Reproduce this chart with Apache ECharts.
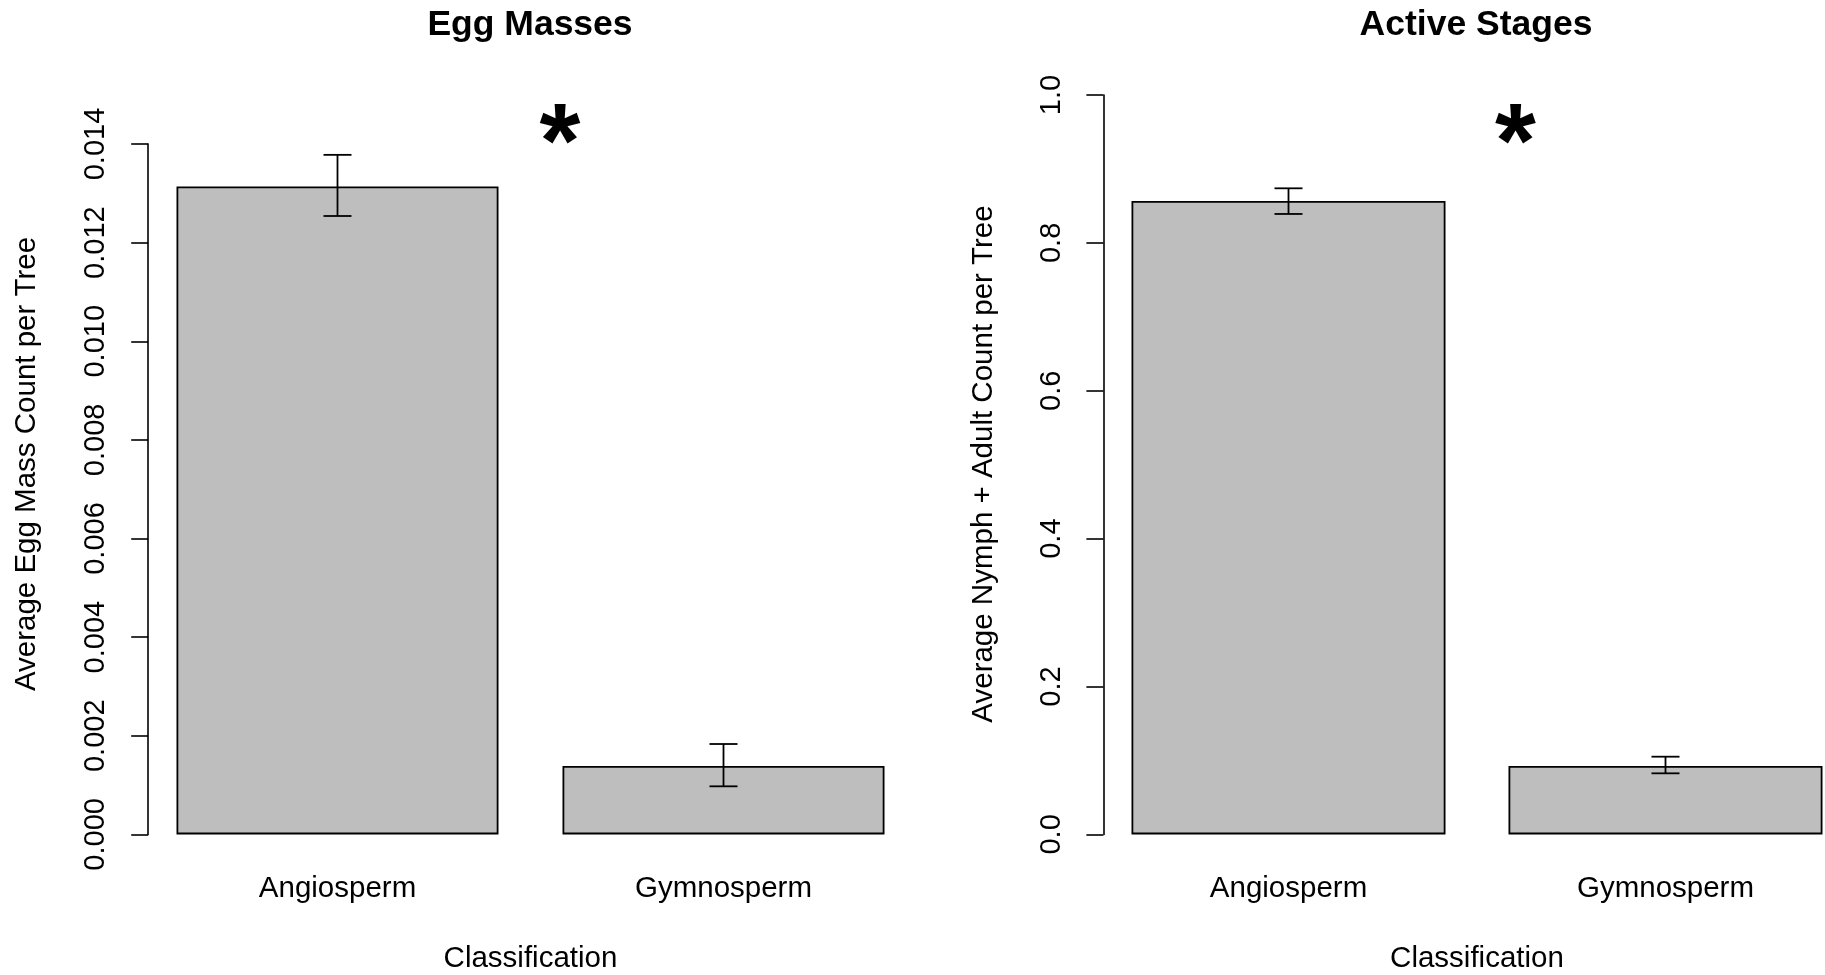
<!DOCTYPE html>
<html>
<head>
<meta charset="utf-8">
<title>Egg Masses and Active Stages by Classification</title>
<script src="https://cdn.jsdelivr.net/npm/echarts@6/dist/echarts.min.js"></script>
<style>
  html, body { margin: 0; padding: 0; background: #fff; }
  #chart { width: 1825px; height: 975px; }
</style>
</head>
<body>
<div id="chart"></div>
<script>
// Tree classification groups
const categories = ['Angiosperm', 'Gymnosperm'];

// Egg masses: mean count per tree with error-bar limits
const eggMean  = [0.01314, 0.001387];
const eggLower = [0.01254, 0.000975];
const eggUpper = [0.01378, 0.001833];

// Active stages (nymph + adult): mean count per tree with error-bar limits
const activeMean  = [0.8566, 0.0925];
const activeLower = [0.8391, 0.0826];
const activeUpper = [0.8738, 0.1051];

// Panel titles and axis names
const panelTitles = ['Egg Masses', 'Active Stages'];
const yNames = ['Average Egg Mass Count per Tree', 'Average Nymph + Adult Count per Tree'];
const xName = 'Classification';
const markText = '*';

// y-axis scales (ticks at min + k * interval)
const eggAxis = { min: 0, max: 0.014, interval: 0.002, digits: 3 };
const activeAxis = { min: 0, max: 1.0, interval: 0.2, digits: 1 };

const FONT = '"Liberation Sans", Arial, sans-serif';
const LABEL_SIZE = 29.5;
const BAR_FILL = '#bebebe';

const chart = echarts.init(document.getElementById('chart'), null, { renderer: 'canvas' });

// The category grid spans bar centre to bar centre; the y axis is pushed
// out to the left edge of the plotting region with `offset`.
function yAxisFor(gridIndex, ax, offset, margin) {
  return {
    type: 'value',
    gridIndex: gridIndex,
    min: ax.min, max: ax.max, interval: ax.interval,
    offset: offset,
    splitLine: { show: false },
    axisLine: { show: true, lineStyle: { color: '#000', width: 1.6 } },
    axisTick: { show: true, length: 17, lineStyle: { color: '#000', width: 1.6 } },
    axisLabel: {
      rotate: 90, margin: margin, color: '#000',
      fontFamily: FONT, fontSize: 29, lineHeight: 29,
      formatter: v => v.toFixed(ax.digits)
    }
  };
}

function xAxisFor(gridIndex) {
  return {
    type: 'category',
    gridIndex: gridIndex,
    data: categories,
    boundaryGap: false,
    axisLine: { show: false },
    axisTick: { show: false },
    axisLabel: { margin: 39.5, color: '#000', fontFamily: FONT, fontSize: LABEL_SIZE, lineHeight: LABEL_SIZE },
    name: xName,
    nameLocation: 'middle',
    nameGap: 110,
    nameTextStyle: { color: '#000', fontFamily: FONT, fontSize: LABEL_SIZE, lineHeight: LABEL_SIZE }
  };
}

function barSeries(idx, values, width) {
  return {
    type: 'bar',
    xAxisIndex: idx, yAxisIndex: idx,
    data: values,
    barWidth: width,
    clip: false,
    itemStyle: { color: BAR_FILL, borderColor: '#000', borderWidth: 1.8 },
    silent: true
  };
}

function errorSeries(idx, lower, upper) {
  const data = categories.map((c, i) => [i, lower[i], upper[i]]);
  return {
    type: 'custom',
    xAxisIndex: idx, yAxisIndex: idx,
    data: data,
    clip: false,
    silent: true,
    z: 5,
    renderItem: function (params, api) {
      const x = api.value(0);
      const lo = api.coord([x, api.value(1)]);
      const hi = api.coord([x, api.value(2)]);
      const half = 14;
      const style = { stroke: '#000', lineWidth: 1.8 };
      return {
        type: 'group',
        children: [
          { type: 'line', shape: { x1: lo[0], y1: lo[1], x2: hi[0], y2: hi[1] }, style: style },
          { type: 'line', shape: { x1: hi[0] - half, y1: hi[1], x2: hi[0] + half, y2: hi[1] }, style: style },
          { type: 'line', shape: { x1: lo[0] - half, y1: lo[1], x2: lo[0] + half, y2: lo[1] }, style: style }
        ]
      };
    }
  };
}

function text(str, x, y, opts) {
  return Object.assign({
    type: 'text', x: x, y: y,
    style: Object.assign({
      text: str, fill: '#000', font: LABEL_SIZE + 'px ' + FONT,
      align: 'center', verticalAlign: 'middle'
    }, opts && opts.style || {})
  }, opts && opts.rotation !== undefined ? { rotation: opts.rotation } : {});
}

const option = {
  backgroundColor: '#fff',
  animation: false,
  grid: [
    { left: 337.5, top: 144, width: 386, height: 690.4, outerBoundsMode: 'none', containLabel: false },
    { left: 1288.5, top: 95, width: 377, height: 739.4, outerBoundsMode: 'none', containLabel: false }
  ],
  xAxis: [xAxisFor(0), xAxisFor(1)],
  yAxis: [yAxisFor(0, eggAxis, 189.3, 38), yAxisFor(1, activeAxis, 185.1, 36.5)],
  series: [
    barSeries(0, eggMean, 322),
    errorSeries(0, eggLower, eggUpper),
    barSeries(1, activeMean, 314),
    errorSeries(1, activeLower, activeUpper)
  ],
  graphic: [
    text(panelTitles[0], 530, 25.5, { style: { font: 'bold 35.5px ' + FONT } }),
    text(panelTitles[1], 1476, 25.5, { style: { font: 'bold 35.5px ' + FONT } }),
    text(yNames[0], 27, 464, { rotation: Math.PI / 2 }),
    text(yNames[1], 984, 464, { rotation: Math.PI / 2 }),
    text(markText, 560, 148, { style: { font: 'bold 105px ' + FONT } }),
    text(markText, 1515.5, 148, { style: { font: 'bold 105px ' + FONT } })
  ]
};

chart.setOption(option);
</script>
</body>
</html>
